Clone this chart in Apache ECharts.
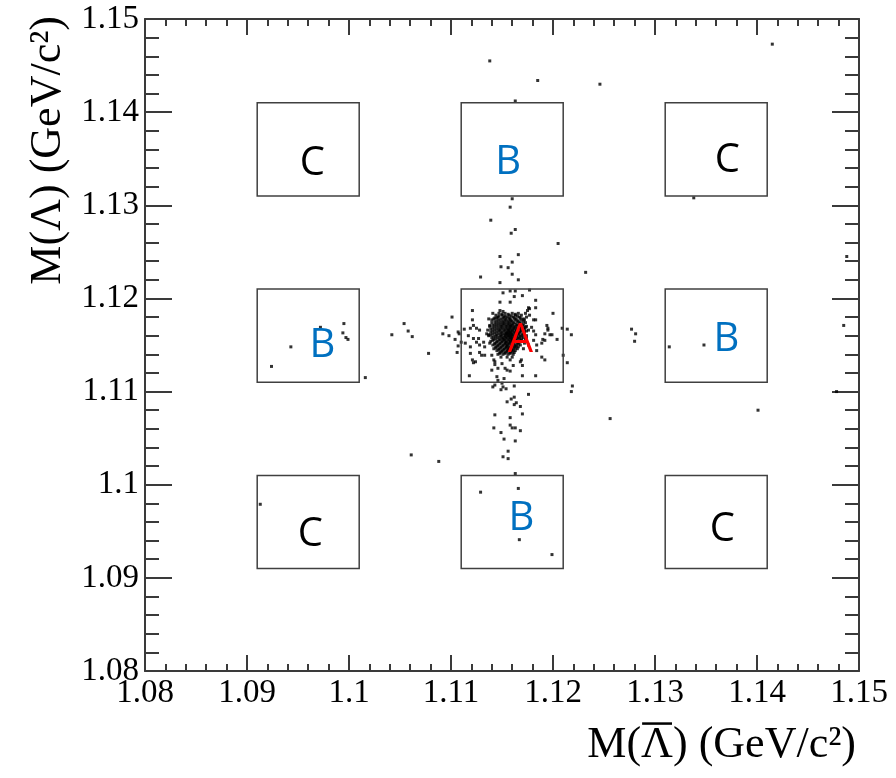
<!DOCTYPE html>
<html><head><meta charset="utf-8">
<script src="https://cdn.jsdelivr.net/npm/echarts@6/dist/echarts.min.js"></script>
<style>html,body{margin:0;padding:0;background:#fff}#c{width:896px;height:778px}</style>
</head><body><div id="c"></div>
<script>
// ---- data ----
const xRange = [1.08, 1.15];
const yRange = [1.08, 1.15];
const tickStep = 0.01;
const boxLo = [1.091, 1.111, 1.131];   // lower edges of sideband boxes (both axes)
const boxSize = 0.01;
const regionText = ['C','B','C','B','A','B','C','B','C'];
const regionX = [1.0964,1.1156,1.1371,1.0974,1.1168,1.1370,1.0962,1.1169,1.1366];
const regionY = [1.1345,1.1346,1.1348,1.1149,1.1155,1.1156,1.0946,1.0964,1.0952];

const tailPoints = [
[1.1138,1.1455],[1.1185,1.1434],[1.1246,1.1430],[1.1163,1.1412],[1.1415,1.1473],
[1.1160,1.1307],[1.1158,1.1298],[1.1139,1.1284],[1.1163,1.1274],[1.1159,1.1270],[1.1205,1.1259],
[1.1148,1.1245],[1.1166,1.1247],[1.1160,1.1239],[1.1149,1.1234],[1.1156,1.1233],[1.1232,1.1228],
[1.1160,1.1226],[1.1129,1.1223],[1.1166,1.1220],[1.1148,1.1217],[1.1338,1.1308],[1.1488,1.1245],
[1.0972,1.1169],[1.0995,1.1173],[1.0994,1.1163],[1.0997,1.1158],[1.0999,1.1156],[1.1016,1.1115],
[1.1042,1.1161],[1.1054,1.1173],[1.1058,1.1165],[1.1062,1.1159],
[1.0913,1.0979],[1.0924,1.1127],[1.0943,1.1148],[1.1061,1.1032],[1.1088,1.1025],
[1.1256,1.1071],[1.1277,1.1167],[1.1281,1.1162],[1.1280,1.1154],[1.1314,1.1148],[1.1348,1.1150],
[1.1401,1.1080],[1.1485,1.1171],[1.1478,1.1100],
[1.1176,1.1097],[1.1162,1.1094],[1.1159,1.1092],[1.1155,1.1089],[1.1164,1.1088],[1.1162,1.1086],
[1.1168,1.1084],[1.1170,1.1076],[1.1143,1.1075],[1.1158,1.1072],[1.1158,1.1064],[1.1160,1.1061],
[1.1163,1.1061],[1.1142,1.1061],[1.1149,1.1056],[1.1168,1.1058],[1.1152,1.1049],[1.1163,1.1047],
[1.1156,1.1036],[1.1151,1.1030],[1.1156,1.1028],[1.1163,1.1012],[1.1129,1.0992],[1.1166,1.0996],
[1.1167,1.0941],[1.1199,1.0925]
];

const haloPoints = [
[1.1158,1.1208],[1.1163,1.1208],[1.1151,1.1206],[1.1162,1.1202],[1.1170,1.1203],[1.1148,1.1196],
[1.1158,1.1196],[1.1183,1.1198],[1.1183,1.1190],[1.1121,1.1187],[1.1148,1.1187],[1.1176,1.1190],
[1.1200,1.1184],[1.1101,1.1180],[1.1095,1.1169],[1.1214,1.1167],[1.1218,1.1161],[1.1092,1.1162],
[1.1098,1.1160],[1.1078,1.1141],[1.1210,1.1139],[1.1113,1.1167],[1.1107,1.1164],[1.1104,1.1156],
[1.1110,1.1153],[1.1119,1.1148],[1.1119,1.1141],[1.1106,1.1142],[1.1204,1.1156],[1.1199,1.1161],
[1.1195,1.1168],[1.1192,1.1155],[1.1189,1.1152],[1.1183,1.1161],[1.1183,1.1177],[1.1177,1.1182],
[1.1175,1.1187],[1.1177,1.1209],
[1.1107,1.1149],[1.1121,1.1177],[1.1118,1.1117],[1.1141,1.1105],[1.1121,1.1134],[1.1124,1.1132],
[1.1128,1.1142],[1.1133,1.1139],[1.1140,1.1123],[1.1142,1.1134],[1.1145,1.1116],[1.1122,1.1157],
[1.1125,1.1153],[1.1132,1.1153],[1.1128,1.1166],[1.1135,1.1162],[1.1138,1.1171],[1.1141,1.1184],
[1.1143,1.1179],[1.1140,1.1177],
[1.1209,1.1168],[1.1214,1.1131],[1.1219,1.1106],[1.1218,1.1100],
[1.1146,1.1112],[1.1152,1.1114],[1.1150,1.1109],[1.1149,1.1102],[1.1154,1.1103],[1.1162,1.1106],
[1.1170,1.1117],[1.1183,1.1117],[1.1170,1.1128],[1.1158,1.1122],[1.1153,1.1125],[1.1143,1.1129],
[1.1122,1.1131],
[1.1177,1.1189],[1.1173,1.1184],[1.1174,1.1180],[1.1172,1.1177],[1.1181,1.1177],[1.1179,1.1169],
[1.1194,1.1171],[1.1195,1.1166],[1.1192,1.1162],[1.1197,1.1161],[1.1190,1.1156],[1.1181,1.1165],
[1.1181,1.1155],[1.1174,1.1157],[1.1172,1.1152],[1.1176,1.1150],[1.1184,1.1150],[1.1184,1.1144],
[1.1189,1.1137],[1.1192,1.1134],[1.1171,1.1146],[1.1169,1.1134],
[1.1151,1.1186],[1.1137,1.1178],[1.1122,1.1171],[1.1119,1.1168],[1.1125,1.1168],[1.1108,1.1162],
[1.1117,1.1160],[1.1127,1.1157],[1.1137,1.1161],[1.1114,1.1152],[1.1128,1.1150],[1.1133,1.1148],
[1.1138,1.1152],[1.1130,1.1139],[1.1140,1.1139],[1.1143,1.1132],[1.1150,1.1130],[1.1158,1.1134],
[1.1161,1.1128],[1.1168,1.1132],[1.1146,1.1125],[1.1155,1.1123],[1.1143,1.1107],[1.1151,1.1105]
];

const corePoints = [
[1.1147,1.1184],[1.1153,1.1184],[1.1160,1.1184],[1.1166,1.1184],
[1.1144,1.1182],[1.1150,1.1182],[1.1157,1.1182],[1.1163,1.1182],[1.1169,1.1182],
[1.1146,1.1180],[1.1152,1.1180],[1.1155,1.1180],[1.1161,1.1180],[1.1167,1.1180],
[1.1142,1.1178],[1.1149,1.1178],[1.1154,1.1178],[1.1158,1.1178],[1.1164,1.1178],[1.1171,1.1178],
[1.1145,1.1176],[1.1151,1.1176],[1.1156,1.1176],[1.1160,1.1176],[1.1166,1.1176],
[1.1140,1.1174],[1.1147,1.1174],[1.1152,1.1174],[1.1157,1.1174],[1.1162,1.1174],[1.1168,1.1174],[1.1173,1.1174],
[1.1143,1.1172],[1.1149,1.1172],[1.1154,1.1172],[1.1159,1.1172],[1.1164,1.1172],[1.1170,1.1172],
[1.1138,1.1170],[1.1145,1.1170],[1.1150,1.1170],[1.1155,1.1170],[1.1158,1.1170],[1.1162,1.1170],[1.1167,1.1170],[1.1174,1.1170],
[1.1141,1.1168],[1.1147,1.1168],[1.1152,1.1168],[1.1157,1.1168],[1.1161,1.1168],[1.1165,1.1168],[1.1171,1.1168],
[1.1136,1.1166],[1.1143,1.1166],[1.1148,1.1166],[1.1153,1.1166],[1.1156,1.1166],[1.1160,1.1166],[1.1164,1.1166],[1.1169,1.1166],[1.1176,1.1166],
[1.1139,1.1164],[1.1145,1.1164],[1.1150,1.1164],[1.1155,1.1164],[1.1158,1.1164],[1.1162,1.1164],[1.1167,1.1164],[1.1172,1.1164],
[1.1141,1.1162],[1.1147,1.1162],[1.1152,1.1162],[1.1154,1.1162],[1.1157,1.1162],[1.1160,1.1162],[1.1165,1.1162],[1.1170,1.1162],
[1.1137,1.1160],[1.1144,1.1160],[1.1149,1.1160],[1.1153,1.1160],[1.1156,1.1160],[1.1159,1.1160],[1.1163,1.1160],[1.1168,1.1160],[1.1174,1.1160],
[1.1140,1.1158],[1.1146,1.1158],[1.1151,1.1158],[1.1155,1.1158],[1.1158,1.1158],[1.1162,1.1158],[1.1166,1.1158],[1.1171,1.1158],
[1.1142,1.1156],[1.1148,1.1156],[1.1152,1.1156],[1.1157,1.1156],[1.1160,1.1156],[1.1164,1.1156],[1.1169,1.1156],
[1.1139,1.1154],[1.1145,1.1154],[1.1150,1.1154],[1.1154,1.1154],[1.1158,1.1154],[1.1161,1.1154],[1.1167,1.1154],[1.1172,1.1154],
[1.1143,1.1152],[1.1148,1.1152],[1.1153,1.1152],[1.1156,1.1152],[1.1160,1.1152],[1.1165,1.1152],
[1.1141,1.1150],[1.1146,1.1150],[1.1151,1.1150],[1.1155,1.1150],[1.1159,1.1150],[1.1163,1.1150],[1.1168,1.1150],
[1.1144,1.1148],[1.1149,1.1148],[1.1154,1.1148],[1.1157,1.1148],[1.1162,1.1148],[1.1166,1.1148],
[1.1142,1.1146],[1.1147,1.1146],[1.1152,1.1146],[1.1156,1.1146],[1.1160,1.1146],[1.1165,1.1146],
[1.1145,1.1144],[1.1150,1.1144],[1.1155,1.1144],[1.1159,1.1144],[1.1163,1.1144],
[1.1148,1.1142],[1.1153,1.1142],[1.1158,1.1142],[1.1162,1.1142],
[1.1146,1.1140],[1.1151,1.1140],[1.1156,1.1140],[1.1161,1.1140],
[1.1149,1.1137],[1.1155,1.1137],[1.1160,1.1137]
];

const coreFill = [
[1.1150,1.1183],[1.1156,1.1183],[1.1163,1.1183],
[1.1147,1.1181],[1.1153,1.1181],[1.1159,1.1181],[1.1165,1.1181],
[1.1145,1.1179],[1.1151,1.1179],[1.1157,1.1179],[1.1162,1.1179],[1.1168,1.1179],
[1.1147,1.1177],[1.1153,1.1177],[1.1158,1.1177],[1.1163,1.1177],[1.1169,1.1177],
[1.1143,1.1175],[1.1149,1.1175],[1.1154,1.1175],[1.1159,1.1175],[1.1165,1.1175],[1.1171,1.1175],
[1.1145,1.1173],[1.1151,1.1173],[1.1156,1.1173],[1.1161,1.1173],[1.1167,1.1173],
[1.1141,1.1171],[1.1147,1.1171],[1.1152,1.1171],[1.1157,1.1171],[1.1160,1.1171],[1.1165,1.1171],[1.1171,1.1171],
[1.1143,1.1169],[1.1149,1.1169],[1.1154,1.1169],[1.1159,1.1169],[1.1163,1.1169],[1.1168,1.1169],[1.1173,1.1169],
[1.1139,1.1167],[1.1145,1.1167],[1.1150,1.1167],[1.1155,1.1167],[1.1158,1.1167],[1.1162,1.1167],[1.1167,1.1167],[1.1172,1.1167],
[1.1141,1.1165],[1.1147,1.1165],[1.1152,1.1165],[1.1157,1.1165],[1.1160,1.1165],[1.1164,1.1165],[1.1169,1.1165],[1.1174,1.1165],
[1.1143,1.1163],[1.1149,1.1163],[1.1154,1.1163],[1.1156,1.1163],[1.1159,1.1163],[1.1163,1.1163],[1.1167,1.1163],
[1.1139,1.1161],[1.1145,1.1161],[1.1150,1.1161],[1.1155,1.1161],[1.1158,1.1161],[1.1161,1.1161],[1.1166,1.1161],[1.1171,1.1161],
[1.1142,1.1159],[1.1148,1.1159],[1.1153,1.1159],[1.1157,1.1159],[1.1160,1.1159],[1.1164,1.1159],[1.1169,1.1159],
[1.1144,1.1157],[1.1150,1.1157],[1.1154,1.1157],[1.1159,1.1157],[1.1162,1.1157],[1.1167,1.1157],[1.1173,1.1157],
[1.1141,1.1155],[1.1147,1.1155],[1.1152,1.1155],[1.1156,1.1155],[1.1160,1.1155],[1.1164,1.1155],[1.1169,1.1155],
[1.1145,1.1153],[1.1150,1.1153],[1.1154,1.1153],[1.1158,1.1153],[1.1162,1.1153],[1.1167,1.1153],
[1.1143,1.1151],[1.1148,1.1151],[1.1153,1.1151],[1.1157,1.1151],[1.1161,1.1151],[1.1166,1.1151],
[1.1146,1.1149],[1.1151,1.1149],[1.1155,1.1149],[1.1160,1.1149],[1.1164,1.1149],
[1.1144,1.1147],[1.1149,1.1147],[1.1154,1.1147],[1.1158,1.1147],[1.1163,1.1147],
[1.1147,1.1145],[1.1152,1.1145],[1.1157,1.1145],[1.1161,1.1145],
[1.1150,1.1143],[1.1155,1.1143],[1.1160,1.1143],
[1.1148,1.1141],[1.1153,1.1141],[1.1158,1.1141]
];

// ---- chart ----
const AXIS_COLOR = '#3a3a3a';
const LABEL_FONT = 'Liberation Serif';
const fmt = v => String(parseFloat(v.toFixed(2)));
const chart = echarts.init(document.getElementById('c'), null, {renderer: 'canvas'});

function axisCommon(majorLen, minorLen, showLabels) {
  return {
    type: 'value', min: xRange[0], max: xRange[1], interval: tickStep,
    axisLine: {show: true, onZero: false, lineStyle: {color: AXIS_COLOR, width: 2}},
    axisTick: {show: true, inside: true, length: majorLen, lineStyle: {color: AXIS_COLOR, width: 2}},
    minorTick: {show: true, splitNumber: 5, length: minorLen, lineStyle: {color: AXIS_COLOR, width: 2}},
    splitLine: {show: false}, minorSplitLine: {show: false},
    axisLabel: {show: showLabels, formatter: fmt, fontFamily: LABEL_FONT, fontSize: 33, color: '#000'}
  };
}
const xBottom = Object.assign(axisCommon(16, 7, true), {position: 'bottom'});
xBottom.axisLabel.margin = 6;
const xTop = Object.assign(axisCommon(16, 7, false), {position: 'top'});
const yLeft = Object.assign(axisCommon(27, 14, true), {position: 'left', min: yRange[0], max: yRange[1]});
yLeft.axisLabel.margin = 6;
const yRight = Object.assign(axisCommon(27, 14, false), {position: 'right', min: yRange[0], max: yRange[1]});

const boxData = [];
boxLo.forEach(by => boxLo.forEach(bx => boxData.push([bx, by, bx + boxSize, by + boxSize])));
const labelData = regionX.map((x, i) => [x, regionY[i]]);
const labelColor = {A: '#ff0000', B: '#0070c0', C: '#000000'};

const TITLE_FONT = '44px "Liberation Serif"';
const xTitle = 'M(Λ) (GeV/c²)';
const ctx = document.createElement('canvas').getContext('2d');
ctx.font = TITLE_FONT;
ctx.textBaseline = 'middle';
const wAll = ctx.measureText(xTitle).width;
const wPre = ctx.measureText('M(').width;
const mL = ctx.measureText('Λ');
const xTitleRight = 856, xTitleMid = 745;
const lamLeft = xTitleRight - wAll + wPre;
const barY = xTitleMid - mL.actualBoundingBoxAscent - 4;

chart.setOption({
  animation: false,
  backgroundColor: '#ffffff',
  grid: {left: 145, right: 37, top: 19, bottom: 107, containLabel: false},
  xAxis: [xBottom, xTop],
  yAxis: [yLeft, yRight],
  series: [
    {
      type: 'scatter', xAxisIndex: 0, yAxisIndex: 0, symbol: 'rect', symbolSize: 3,
      itemStyle: {color: '#000'}, silent: true, z: 2,
      data: tailPoints.concat(haloPoints, corePoints, coreFill)
    },
    {
      type: 'custom', xAxisIndex: 0, yAxisIndex: 0, silent: true, z: 3,
      data: boxData,
      renderItem: (params, api) => {
        const p0 = api.coord([api.value(0), api.value(1)]);
        const p1 = api.coord([api.value(2), api.value(3)]);
        return {type: 'rect',
          shape: {x: Math.min(p0[0], p1[0]), y: Math.min(p0[1], p1[1]),
                  width: Math.abs(p1[0] - p0[0]), height: Math.abs(p1[1] - p0[1])},
          style: {fill: 'none', stroke: '#404040', lineWidth: 1.5}};
      }
    },
    {
      type: 'custom', xAxisIndex: 0, yAxisIndex: 0, silent: true, z: 4,
      data: labelData,
      renderItem: (params, api) => {
        const p = api.coord([api.value(0), api.value(1)]);
        const t = regionText[params.dataIndex];
        return {type: 'text', x: p[0], y: p[1],
          style: {text: t, fill: labelColor[t], font: '40px "Open Sans"',
                  align: 'center', verticalAlign: 'middle', textAlign: 'center', textVerticalAlign: 'middle'}};
      }
    }
  ],
  graphic: [
    {type: 'text', x: xTitleRight, y: xTitleMid, silent: true,
     style: {text: xTitle, font: TITLE_FONT, fill: '#000', align: 'right', verticalAlign: 'middle',
             textAlign: 'right', textVerticalAlign: 'middle'}},
    {type: 'line', silent: true,
     shape: {x1: lamLeft + 1, y1: barY, x2: lamLeft + mL.width - 1, y2: barY},
     style: {stroke: '#000', lineWidth: 2.5}},
    {type: 'text', x: 48, y: 16, rotation: Math.PI / 2, silent: true,
     style: {text: 'M(Λ) (GeV/c²)', font: TITLE_FONT, fill: '#000', align: 'right', verticalAlign: 'middle',
             textAlign: 'right', textVerticalAlign: 'middle'}}
  ]
});
</script>
</body></html>
